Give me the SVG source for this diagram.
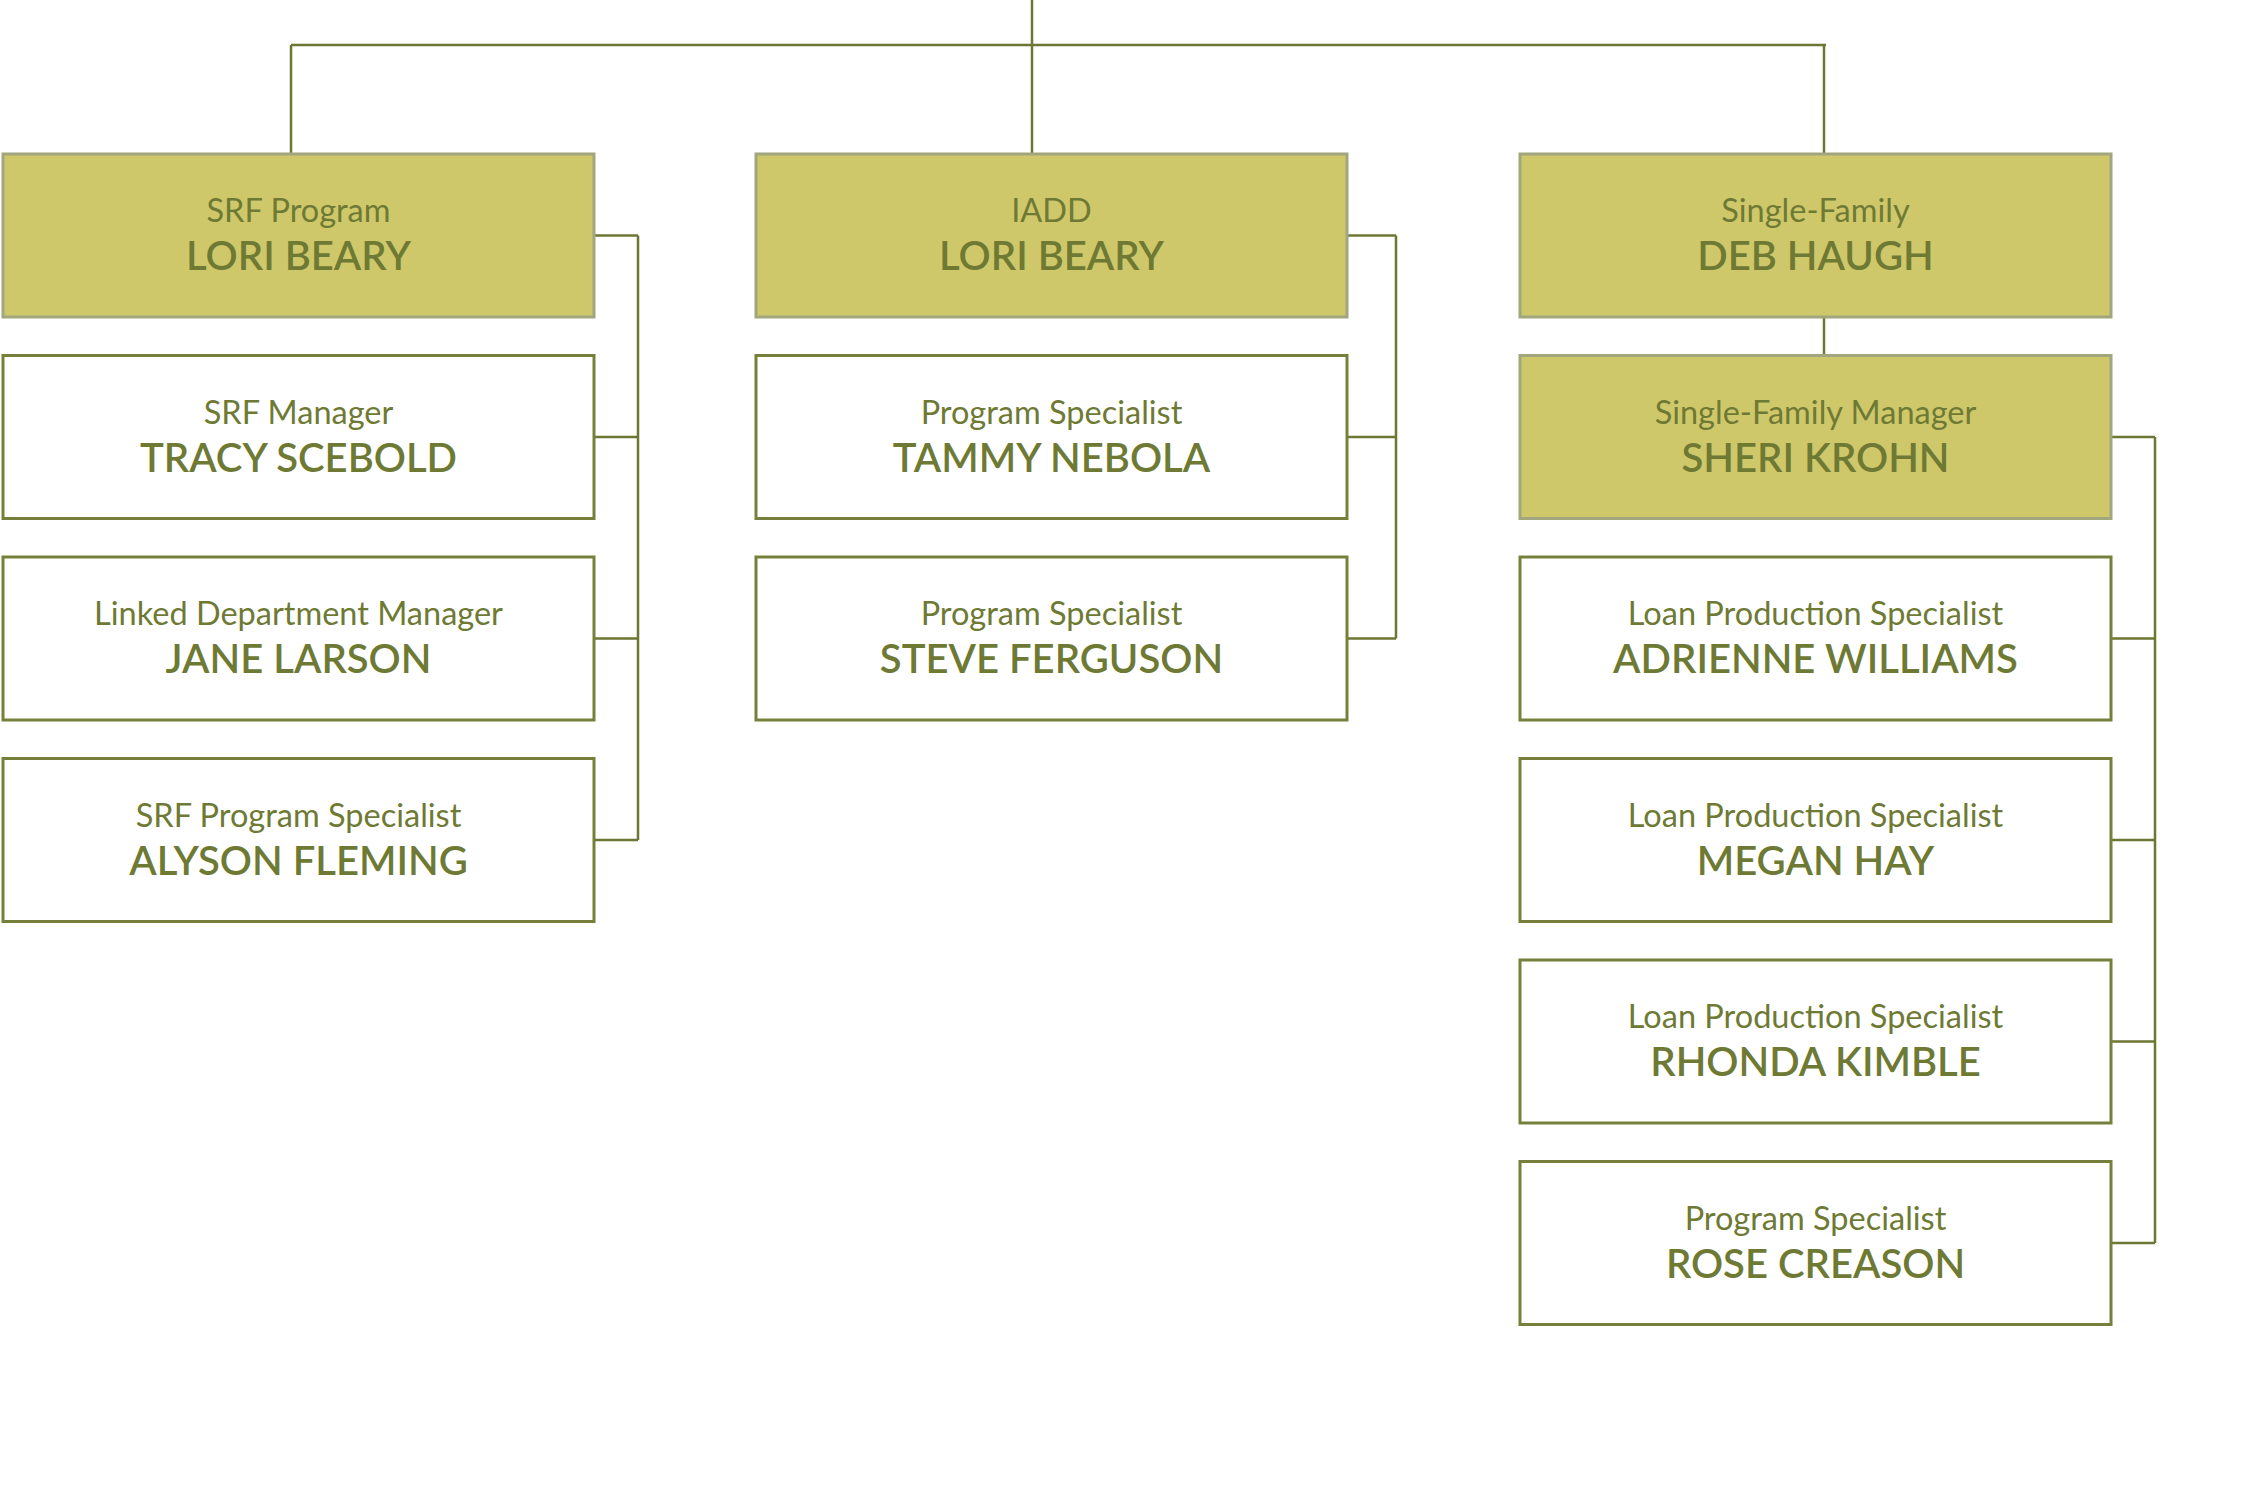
<svg xmlns="http://www.w3.org/2000/svg" width="2257" height="1501" viewBox="0 0 2257 1501">
  <style>
    .head rect { fill: #CFC86B; stroke: #A2A67F; stroke-width: 3; }
    .staff rect { fill: #FFFFFF; stroke: #77803A; stroke-width: 3; }
    .title { font-family: Lato, "Liberation Sans", sans-serif; font-weight: 400; font-size: 32.5px; fill: #6E7A34; text-anchor: middle; }
    .name { font-family: Lato, "Liberation Sans", sans-serif; font-weight: 600; font-size: 40px; fill: #6E7A34; text-anchor: middle; }
    .links path { fill: none; stroke: #6E7633; stroke-width: 2.5; }
  </style>
  <rect width="2257" height="1501" fill="#FFFFFF"/>

  <!-- reporting lines -->
  <g class="links">
    <path d="M1032 0 V154"/>
    <path d="M291 45 H1826"/>
    <path d="M291 45 V154"/>
    <path d="M1824 45 V154"/>
    <!-- SRF column -->
    <path d="M638 235.5 V840"/>
    <path d="M594 235.5 H638 M594 437 H638 M594 638.5 H638 M594 840 H638"/>
    <!-- IADD column -->
    <path d="M1396 235.5 V638.5"/>
    <path d="M1347 235.5 H1396 M1347 437 H1396 M1347 638.5 H1396"/>
    <!-- Single-Family column -->
    <path d="M1824 317 V355.5"/>
    <path d="M2155 437 V1243"/>
    <path d="M2111 437 H2155 M2111 638.5 H2155 M2111 840 H2155 M2111 1041.5 H2155 M2111 1243 H2155"/>
  </g>

  <!-- SRF column -->
  <g id="srf-program" class="head">
    <rect x="3" y="154" width="591" height="163"/>
    <text class="title" x="298.5" y="222">SRF Program</text>
    <text class="name" x="298.5" y="270">LORI BEARY</text>
  </g>
  <g id="srf-manager" class="staff">
    <rect x="3" y="355.5" width="591" height="163"/>
    <text class="title" x="298.5" y="423.5">SRF Manager</text>
    <text class="name" x="298.5" y="471.5">TRACY SCEBOLD</text>
  </g>
  <g id="linked-dept-manager" class="staff">
    <rect x="3" y="557" width="591" height="163"/>
    <text class="title" x="298.5" y="625">Linked Department Manager</text>
    <text class="name" x="298.5" y="673">JANE LARSON</text>
  </g>
  <g id="srf-program-specialist" class="staff">
    <rect x="3" y="758.5" width="591" height="163"/>
    <text class="title" x="298.5" y="826.5">SRF Program Specialist</text>
    <text class="name" x="298.5" y="874.5">ALYSON FLEMING</text>
  </g>

  <!-- IADD column -->
  <g id="iadd" class="head">
    <rect x="756" y="154" width="591" height="163"/>
    <text class="title" x="1051.5" y="222">IADD</text>
    <text class="name" x="1051.5" y="270">LORI BEARY</text>
  </g>
  <g id="iadd-specialist-1" class="staff">
    <rect x="756" y="355.5" width="591" height="163"/>
    <text class="title" x="1051.5" y="423.5">Program Specialist</text>
    <text class="name" x="1051.5" y="471.5">TAMMY NEBOLA</text>
  </g>
  <g id="iadd-specialist-2" class="staff">
    <rect x="756" y="557" width="591" height="163"/>
    <text class="title" x="1051.5" y="625">Program Specialist</text>
    <text class="name" x="1051.5" y="673">STEVE FERGUSON</text>
  </g>

  <!-- Single-Family column -->
  <g id="single-family" class="head">
    <rect x="1520" y="154" width="591" height="163"/>
    <text class="title" x="1815.5" y="222">Single-Family</text>
    <text class="name" x="1815.5" y="270">DEB HAUGH</text>
  </g>
  <g id="single-family-manager" class="head">
    <rect x="1520" y="355.5" width="591" height="163"/>
    <text class="title" x="1815.5" y="423.5">Single-Family Manager</text>
    <text class="name" x="1815.5" y="471.5">SHERI KROHN</text>
  </g>
  <g id="loan-specialist-1" class="staff">
    <rect x="1520" y="557" width="591" height="163"/>
    <text class="title" x="1815.5" y="625">Loan Production Specialist</text>
    <text class="name" x="1815.5" y="673">ADRIENNE WILLIAMS</text>
  </g>
  <g id="loan-specialist-2" class="staff">
    <rect x="1520" y="758.5" width="591" height="163"/>
    <text class="title" x="1815.5" y="826.5">Loan Production Specialist</text>
    <text class="name" x="1815.5" y="874.5">MEGAN HAY</text>
  </g>
  <g id="loan-specialist-3" class="staff">
    <rect x="1520" y="960" width="591" height="163"/>
    <text class="title" x="1815.5" y="1028">Loan Production Specialist</text>
    <text class="name" x="1815.5" y="1076">RHONDA KIMBLE</text>
  </g>
  <g id="sf-program-specialist" class="staff">
    <rect x="1520" y="1161.5" width="591" height="163"/>
    <text class="title" x="1815.5" y="1229.5">Program Specialist</text>
    <text class="name" x="1815.5" y="1277.5">ROSE CREASON</text>
  </g>
</svg>
